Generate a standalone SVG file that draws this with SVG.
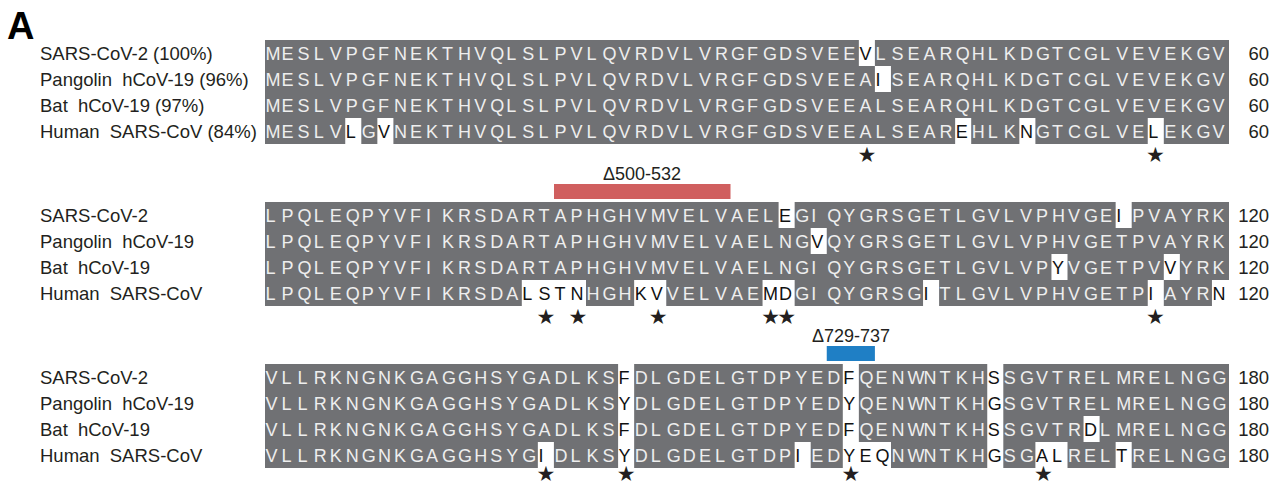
<svg xmlns="http://www.w3.org/2000/svg" width="1272" height="484" viewBox="0 0 1272 484">
<style>
text{font-family:"Liberation Sans",Arial,Helvetica,sans-serif}
.lbl{font-size:18.5px;fill:#231f20}
.num{font-size:18.5px;fill:#231f20;text-anchor:end}
.seq{font-size:18px;fill:#eeeeee}
.d{fill:#111111}
.bg{fill:#707174}
.w{fill:#ffffff}
.star{font-family:"DejaVu Sans",sans-serif;font-size:21px;fill:#231f20;text-anchor:middle}
.del{font-size:18px;fill:#231f20;text-anchor:middle}
.panel{font-size:38px;font-weight:bold;fill:#000}
</style>
<text class="panel" x="7" y="39">A</text>

<g id="block1">
<rect class="bg" x="265" y="40" width="964" height="104"/>
<rect class="w" x="858.85" y="40" width="16.05" height="26"/>
<rect class="w" x="874.9" y="66" width="16.05" height="26"/>
<rect class="w" x="345.25" y="118" width="16.05" height="26"/>
<rect class="w" x="377.35" y="118" width="16.05" height="26"/>
<rect class="w" x="955.15" y="118" width="16.05" height="26"/>
<rect class="w" x="1019.35" y="118" width="16.05" height="26"/>
<rect class="w" x="1147.75" y="118" width="16.05" height="26"/>
<text class="lbl" x="40" y="59.5">SARS-CoV-2 (100%)</text>
<text class="lbl" x="40" y="85.5">Pangolin <tspan dx="5">hCoV-19 (96%)</tspan></text>
<text class="lbl" x="40" y="111.5">Bat <tspan dx="5">hCoV-19 (97%)</tspan></text>
<text class="lbl" x="40" y="137.5">Human <tspan dx="5">SARS-CoV (84%)</tspan></text>
<text class="seq" y="59.5" x="265.5 281.6 297.6 313.7 329.7 345.8 361.8 377.9 393.9 410 426 442.1 458.1 474.2 490.2 506.3 522.3 538.4 554.4 570.5 586.5 602.6 618.6 634.7 650.7 666.8 682.8 698.9 714.9 731 747 763.1 779.1 795.2 811.2 827.3 843.3 859.4 875.4 891.5 907.5 923.6 939.6 955.7 971.7 987.8 1003.8 1019.9 1035.9 1052 1068 1084.1 1100.1 1116.2 1132.2 1148.3 1164.3 1180.4 1196.4 1212.5">MESLVPGFNEKTHVQLSLPVLQVRDVLVRGFGDSVEE<tspan class="d">V</tspan>LSEARQHLKDGTCGLVEVEKGV</text>
<text class="seq" y="85.5" x="265.5 281.6 297.6 313.7 329.7 345.8 361.8 377.9 393.9 410 426 442.1 458.1 474.2 490.2 506.3 522.3 538.4 554.4 570.5 586.5 602.6 618.6 634.7 650.7 666.8 682.8 698.9 714.9 731 747 763.1 779.1 795.2 811.2 827.3 843.3 859.4 875.4 891.5 907.5 923.6 939.6 955.7 971.7 987.8 1003.8 1019.9 1035.9 1052 1068 1084.1 1100.1 1116.2 1132.2 1148.3 1164.3 1180.4 1196.4 1212.5">MESLVPGFNEKTHVQLSLPVLQVRDVLVRGFGDSVEEA<tspan class="d">I</tspan>SEARQHLKDGTCGLVEVEKGV</text>
<text class="seq" y="111.5" x="265.5 281.6 297.6 313.7 329.7 345.8 361.8 377.9 393.9 410 426 442.1 458.1 474.2 490.2 506.3 522.3 538.4 554.4 570.5 586.5 602.6 618.6 634.7 650.7 666.8 682.8 698.9 714.9 731 747 763.1 779.1 795.2 811.2 827.3 843.3 859.4 875.4 891.5 907.5 923.6 939.6 955.7 971.7 987.8 1003.8 1019.9 1035.9 1052 1068 1084.1 1100.1 1116.2 1132.2 1148.3 1164.3 1180.4 1196.4 1212.5">MESLVPGFNEKTHVQLSLPVLQVRDVLVRGFGDSVEEALSEARQHLKDGTCGLVEVEKGV</text>
<text class="seq" y="137.5" x="265.5 281.6 297.6 313.7 329.7 345.8 361.8 377.9 393.9 410 426 442.1 458.1 474.2 490.2 506.3 522.3 538.4 554.4 570.5 586.5 602.6 618.6 634.7 650.7 666.8 682.8 698.9 714.9 731 747 763.1 779.1 795.2 811.2 827.3 843.3 859.4 875.4 891.5 907.5 923.6 939.6 955.7 971.7 987.8 1003.8 1019.9 1035.9 1052 1068 1084.1 1100.1 1116.2 1132.2 1148.3 1164.3 1180.4 1196.4 1212.5">MESLV<tspan class="d">L</tspan>G<tspan class="d">V</tspan>NEKTHVQLSLPVLQVRDVLVRGFGDSVEEALSEAR<tspan class="d">E</tspan>HLK<tspan class="d">N</tspan>GTCGLVE<tspan class="d">L</tspan>EKGV</text>
<text class="num" x="1269" y="59.5">60</text>
<text class="num" x="1269" y="85.5">60</text>
<text class="num" x="1269" y="111.5">60</text>
<text class="num" x="1269" y="137.5">60</text>
<text class="star" x="867" y="162">★</text>
<text class="star" x="1155.5" y="162">★</text>
</g>

<g id="deletion1">
<text class="del" x="642" y="180">Δ500-532</text>
<rect x="554" y="184" width="176.5" height="15" fill="#d05f5f"/>
</g>

<g id="block2">
<rect class="bg" x="265" y="202" width="964" height="104"/>
<rect class="w" x="778.6" y="202" width="16.05" height="26"/>
<rect class="w" x="1115.65" y="202" width="16.05" height="26"/>
<rect class="w" x="810.7" y="228" width="16.05" height="26"/>
<rect class="w" x="1051.45" y="254" width="16.05" height="26"/>
<rect class="w" x="1163.8" y="254" width="16.05" height="26"/>
<rect class="w" x="521.8" y="280" width="64.2" height="26"/>
<rect class="w" x="634.15" y="280" width="32.1" height="26"/>
<rect class="w" x="762.55" y="280" width="32.1" height="26"/>
<rect class="w" x="923.05" y="280" width="16.05" height="26"/>
<rect class="w" x="1147.75" y="280" width="16.05" height="26"/>
<rect class="w" x="1211.95" y="280" width="17.05" height="26"/>
<text class="lbl" x="40" y="221.5">SARS-CoV-2</text>
<text class="lbl" x="40" y="247.5">Pangolin <tspan dx="5">hCoV-19</tspan></text>
<text class="lbl" x="40" y="273.5">Bat <tspan dx="5">hCoV-19</tspan></text>
<text class="lbl" x="40" y="299.5">Human <tspan dx="5">SARS-CoV</tspan></text>
<text class="seq" y="221.5" x="265.5 281.6 297.6 313.7 329.7 345.8 361.8 377.9 393.9 410 426 442.1 458.1 474.2 490.2 506.3 522.3 538.4 554.4 570.5 586.5 602.6 618.6 634.7 650.7 666.8 682.8 698.9 714.9 731 747 763.1 779.1 795.2 811.2 827.3 843.3 859.4 875.4 891.5 907.5 923.6 939.6 955.7 971.7 987.8 1003.8 1019.9 1035.9 1052 1068 1084.1 1100.1 1116.2 1132.2 1148.3 1164.3 1180.4 1196.4 1212.5">LPQLEQPYVFIKRSDARTAPHGHVMVELVAEL<tspan class="d">E</tspan>GIQYGRSGETLGVLVPHVGE<tspan class="d">I</tspan>PVAYRK</text>
<text class="seq" y="247.5" x="265.5 281.6 297.6 313.7 329.7 345.8 361.8 377.9 393.9 410 426 442.1 458.1 474.2 490.2 506.3 522.3 538.4 554.4 570.5 586.5 602.6 618.6 634.7 650.7 666.8 682.8 698.9 714.9 731 747 763.1 779.1 795.2 811.2 827.3 843.3 859.4 875.4 891.5 907.5 923.6 939.6 955.7 971.7 987.8 1003.8 1019.9 1035.9 1052 1068 1084.1 1100.1 1116.2 1132.2 1148.3 1164.3 1180.4 1196.4 1212.5">LPQLEQPYVFIKRSDARTAPHGHVMVELVAELNG<tspan class="d">V</tspan>QYGRSGETLGVLVPHVGETPVAYRK</text>
<text class="seq" y="273.5" x="265.5 281.6 297.6 313.7 329.7 345.8 361.8 377.9 393.9 410 426 442.1 458.1 474.2 490.2 506.3 522.3 538.4 554.4 570.5 586.5 602.6 618.6 634.7 650.7 666.8 682.8 698.9 714.9 731 747 763.1 779.1 795.2 811.2 827.3 843.3 859.4 875.4 891.5 907.5 923.6 939.6 955.7 971.7 987.8 1003.8 1019.9 1035.9 1052 1068 1084.1 1100.1 1116.2 1132.2 1148.3 1164.3 1180.4 1196.4 1212.5">LPQLEQPYVFIKRSDARTAPHGHVMVELVAELNGIQYGRSGETLGVLVP<tspan class="d">Y</tspan>VGETPV<tspan class="d">V</tspan>YRK</text>
<text class="seq" y="299.5" x="265.5 281.6 297.6 313.7 329.7 345.8 361.8 377.9 393.9 410 426 442.1 458.1 474.2 490.2 506.3 522.3 538.4 554.4 570.5 586.5 602.6 618.6 634.7 650.7 666.8 682.8 698.9 714.9 731 747 763.1 779.1 795.2 811.2 827.3 843.3 859.4 875.4 891.5 907.5 923.6 939.6 955.7 971.7 987.8 1003.8 1019.9 1035.9 1052 1068 1084.1 1100.1 1116.2 1132.2 1148.3 1164.3 1180.4 1196.4 1212.5">LPQLEQPYVFIKRSDA<tspan class="d">LSTN</tspan>HGH<tspan class="d">KV</tspan>VELVAE<tspan class="d">MD</tspan>GIQYGRSG<tspan class="d">I</tspan>TLGVLVPHVGETP<tspan class="d">I</tspan>AYR<tspan class="d">N</tspan></text>
<text class="num" x="1269" y="221.5">120</text>
<text class="num" x="1269" y="247.5">120</text>
<text class="num" x="1269" y="273.5">120</text>
<text class="num" x="1269" y="299.5">120</text>
<text class="star" x="545.9" y="324">★</text>
<text class="star" x="578" y="324">★</text>
<text class="star" x="658.2" y="324">★</text>
<text class="star" x="770.6 786.6" y="324">★★</text>
<text class="star" x="1155.5" y="324">★</text>
</g>

<g id="deletion2">
<text class="del" x="851" y="342">Δ729-737</text>
<rect x="826.75" y="346" width="48.15" height="15" fill="#1f7fc5"/>
</g>

<g id="block3">
<rect class="bg" x="265" y="364" width="964" height="104"/>
<rect class="w" x="618.1" y="364" width="16.05" height="104"/>
<rect class="w" x="842.8" y="364" width="16.05" height="104"/>
<rect class="w" x="987.25" y="364" width="16.05" height="104"/>
<rect class="w" x="1083.55" y="416" width="16.05" height="26"/>
<rect class="w" x="537.85" y="442" width="16.05" height="26"/>
<rect class="w" x="794.65" y="442" width="16.05" height="26"/>
<rect class="w" x="858" y="442" width="33" height="26"/>
<rect class="w" x="1035.4" y="442" width="32.1" height="26"/>
<rect class="w" x="1115.65" y="442" width="16.05" height="26"/>
<text class="lbl" x="40" y="383.5">SARS-CoV-2</text>
<text class="lbl" x="40" y="409.5">Pangolin <tspan dx="5">hCoV-19</tspan></text>
<text class="lbl" x="40" y="435.5">Bat <tspan dx="5">hCoV-19</tspan></text>
<text class="lbl" x="40" y="461.5">Human <tspan dx="5">SARS-CoV</tspan></text>
<text class="seq" y="383.5" x="265.5 281.6 297.6 313.7 329.7 345.8 361.8 377.9 393.9 410 426 442.1 458.1 474.2 490.2 506.3 522.3 538.4 554.4 570.5 586.5 602.6 618.6 634.7 650.7 666.8 682.8 698.9 714.9 731 747 763.1 779.1 795.2 811.2 827.3 843.3 859.4 875.4 891.5 907.5 923.6 939.6 955.7 971.7 987.8 1003.8 1019.9 1035.9 1052 1068 1084.1 1100.1 1116.2 1132.2 1148.3 1164.3 1180.4 1196.4 1212.5">VLLRKNGNKGAGGHSYGADLKS<tspan class="d">F</tspan>DLGDELGTDPYED<tspan class="d">F</tspan>QENWNTKH<tspan class="d">S</tspan>SGVTRELMRELNGG</text>
<text class="seq" y="409.5" x="265.5 281.6 297.6 313.7 329.7 345.8 361.8 377.9 393.9 410 426 442.1 458.1 474.2 490.2 506.3 522.3 538.4 554.4 570.5 586.5 602.6 618.6 634.7 650.7 666.8 682.8 698.9 714.9 731 747 763.1 779.1 795.2 811.2 827.3 843.3 859.4 875.4 891.5 907.5 923.6 939.6 955.7 971.7 987.8 1003.8 1019.9 1035.9 1052 1068 1084.1 1100.1 1116.2 1132.2 1148.3 1164.3 1180.4 1196.4 1212.5">VLLRKNGNKGAGGHSYGADLKS<tspan class="d">Y</tspan>DLGDELGTDPYED<tspan class="d">Y</tspan>QENWNTKH<tspan class="d">G</tspan>SGVTRELMRELNGG</text>
<text class="seq" y="435.5" x="265.5 281.6 297.6 313.7 329.7 345.8 361.8 377.9 393.9 410 426 442.1 458.1 474.2 490.2 506.3 522.3 538.4 554.4 570.5 586.5 602.6 618.6 634.7 650.7 666.8 682.8 698.9 714.9 731 747 763.1 779.1 795.2 811.2 827.3 843.3 859.4 875.4 891.5 907.5 923.6 939.6 955.7 971.7 987.8 1003.8 1019.9 1035.9 1052 1068 1084.1 1100.1 1116.2 1132.2 1148.3 1164.3 1180.4 1196.4 1212.5">VLLRKNGNKGAGGHSYGADLKS<tspan class="d">F</tspan>DLGDELGTDPYED<tspan class="d">F</tspan>QENWNTKH<tspan class="d">S</tspan>SGVTR<tspan class="d">D</tspan>LMRELNGG</text>
<text class="seq" y="461.5" x="265.5 281.6 297.6 313.7 329.7 345.8 361.8 377.9 393.9 410 426 442.1 458.1 474.2 490.2 506.3 522.3 538.4 554.4 570.5 586.5 602.6 618.6 634.7 650.7 666.8 682.8 698.9 714.9 731 747 763.1 779.1 795.2 811.2 827.3 843.3 859.4 875.4 891.5 907.5 923.6 939.6 955.7 971.7 987.8 1003.8 1019.9 1035.9 1052 1068 1084.1 1100.1 1116.2 1132.2 1148.3 1164.3 1180.4 1196.4 1212.5">VLLRKNGNKGAGGHSYG<tspan class="d">I</tspan>DLKS<tspan class="d">Y</tspan>DLGDELGTDP<tspan class="d">I</tspan>ED<tspan class="d">YEQ</tspan>NWNTKH<tspan class="d">G</tspan>SG<tspan class="d">AL</tspan>REL<tspan class="d">T</tspan>RELNGG</text>
<text class="num" x="1269" y="383.5">180</text>
<text class="num" x="1269" y="409.5">180</text>
<text class="num" x="1269" y="435.5">180</text>
<text class="num" x="1269" y="461.5">180</text>
<text class="star" x="545.9" y="481">★</text>
<text class="star" x="626.1" y="481">★</text>
<text class="star" x="850.8" y="481">★</text>
<text class="star" x="1043.4" y="481">★</text>
</g>
</svg>
